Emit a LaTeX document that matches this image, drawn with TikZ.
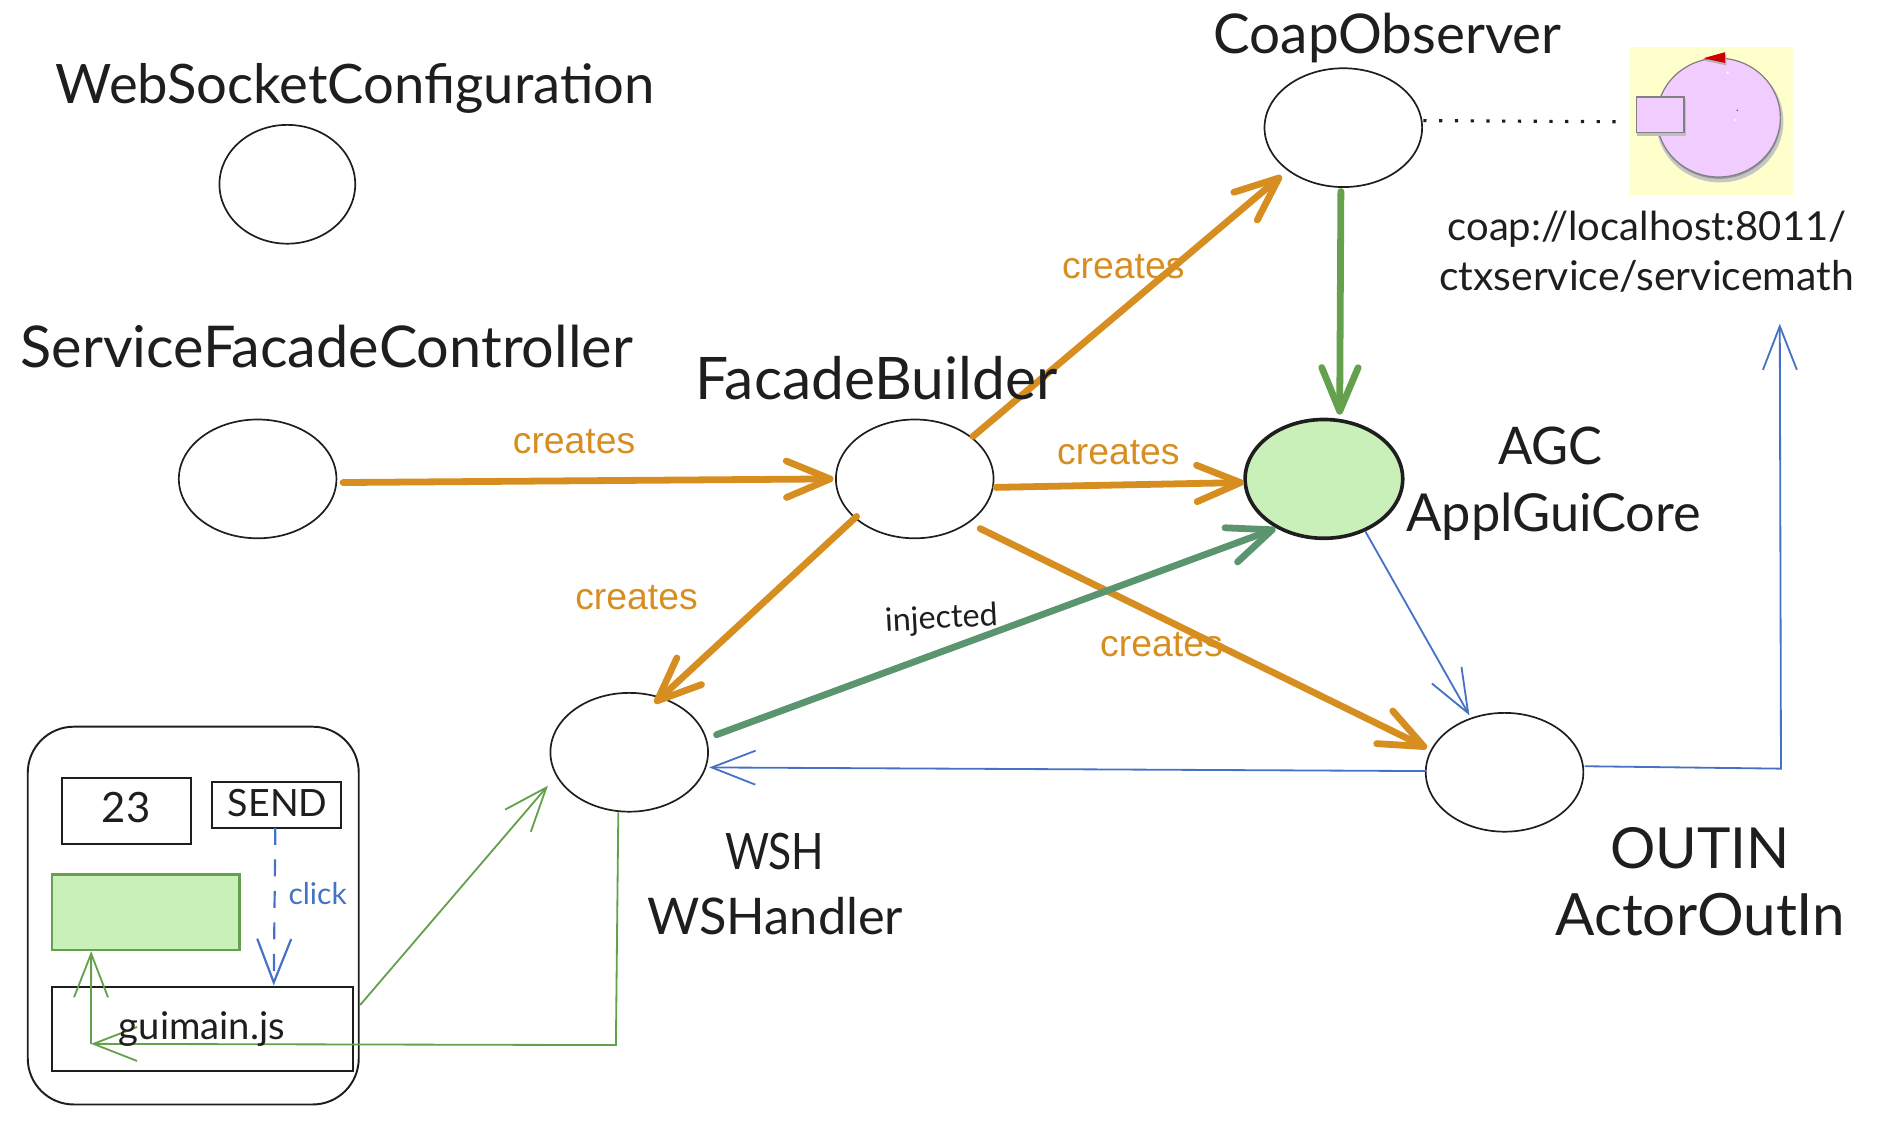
\documentclass[tikz,border=0pt]{standalone}
\usepackage{fontspec}
\usepackage{graphicx}
\setmainfont{Lato}
\newfontfamily\arialf{Liberation Sans}
\usetikzlibrary{arrows.meta,calc,shapes.geometric}
\definecolor{ink}{HTML}{1E1E1E}
\definecolor{orangeL}{HTML}{D78E20}
\definecolor{greenL}{HTML}{65A04D}
\definecolor{tealL}{HTML}{5A9570}
\definecolor{blueL}{HTML}{4472C4}
\definecolor{paleG}{HTML}{C9F0B8}
\definecolor{paleY}{HTML}{FFFFCC}
\definecolor{paleP}{HTML}{F0CCFF}
\newcommand{\hw}[2]{\resizebox{#1pt}{!}{#2}}
\tikzset{
  x=1pt,y=-1pt,
  oval/.style={ellipse,draw=ink,line width=1.4pt,minimum width=130pt,minimum height=98pt,inner sep=0pt},
  boxn/.style={rectangle,draw=ink,line width=1.7pt,inner sep=0pt},
  hand/.style={text=ink,inner sep=0pt,anchor=center},
  crt/.style={text=orangeL,inner sep=0pt,font=\arialf\fontsize{30.8}{34}\selectfont},
  fat/.style={line width=5.6pt,line cap=round,-{Straight Barb[length=36pt,width=30pt,round]}},
  org/.style={fat,draw=orangeL},
  thin/.style={line width=1.5pt,-{Straight Barb[length=36pt,width=28pt]}}
}
\begin{document}
\begin{tikzpicture}
\useasboundingbox (0,0) rectangle (1568,934);
% ovals
\node[oval,minimum width=112pt] (ws) at (237,152) {};
\node[oval] (svc) at (212.5,395) {};
\node[oval] (fac) at (754.5,395) {};
\node[oval] (coap) at (1108,105.3) {};
\node[oval,fill=paleG,line width=3pt,minimum width=130pt] (agc) at (1092,395) {};
\node[oval] (wsh) at (519,620.5) {};
\node[oval] (out) at (1241,637) {};
% icon
\node[rectangle,fill=paleY,minimum width=135pt,minimum height=122.5pt,inner sep=0pt] (icon) at (1411.5,99.8) {};
\fill[gray!45] (1418.5,100) ellipse [x radius=52.5,y radius=50.5];
\fill[gray!80] (1418,98.5) ellipse [x radius=51,y radius=49];
\draw[draw=gray,line width=1pt,fill=paleP] (1417.5,97) ellipse [x radius=51,y radius=49];
\fill[gray!50] (1350,82) rectangle (1391,112);
\draw[draw=gray,line width=1pt,fill=paleP] (1350,80) rectangle (1389,109);
\fill[gray!60] (1406,50) -- (1424,45) -- (1424,54) -- cycle;
\fill[red!80!black] (1405,48) -- (1423,43) -- (1423,52) -- cycle;
\fill[gray!80!black] (1433,91) circle (0.8);
\fill[white] (1431,99) circle (0.8);
\fill[white] (1425,60) circle (1);
\draw[ink,line width=2.6pt,dash pattern=on 2.6pt off 10.4pt] ($(coap.center)+(66,-5.8)$) -- ($(icon.center)+(-77.5,0.6)$);
% left panel
\node[rectangle,draw=ink,line width=1.6pt,rounded corners=38pt,minimum width=273pt,minimum height=311.6pt,inner sep=0pt] (panel) at (159.4,755.2) {};
\node[boxn,minimum width=106.8pt,minimum height=54.7pt] (val) at (104.2,668.7) {};
\node[boxn,minimum width=106.4pt,minimum height=38.3pt] (send) at (228.1,663.8) {};
\node[rectangle,draw=greenL,fill=paleG,line width=2pt,minimum width=155pt,minimum height=62.2pt,inner sep=0pt] (grect) at (120.2,752.5) {};
\node[boxn,minimum width=248.2pt,minimum height=69.2pt] (gui) at (166.8,848.4) {};
\coordinate (guiin) at (75,861);
\coordinate (elbow) at (508,862);
\coordinate (upcorner) at (1469,634);
\coordinate (upend) at (1468,267);
% connectors
\draw[org] ($(svc.center)+(70.5,3)$) -- ($(fac.center)+(-67,0)$);
\draw[org] ($(fac.center)+(48,-35)$) -- ($(coap.center)+(-51,39.7)$);
\draw[org] ($(fac.center)+(67,7)$) -- ($(agc.center)+(-66,3)$);
\draw[org] ($(fac.center)+(-48,31)$) -- ($(wsh.center)+(21,-40.5)$);
\draw[org] ($(fac.center)+(54,41)$) -- ($(out.center)+(-64,-20)$);
\draw[fat,draw=greenL] ($(coap.center)+(-2,52.7)$) -- ($(agc.center)+(13,-53)$);
\draw[fat,draw=tealL] ($(wsh.center)+(72,-14.5)$) -- ($(agc.center)+(-40,41)$);
\draw[thin,draw=blueL] ($(agc.center)+(34,43)$) -- ($(out.center)+(-29,-47)$);
\draw[thin,draw=blueL] ($(out.center)+(-65,-1)$) -- ($(wsh.center)+(66,12.5)$);
\draw[thin,draw=blueL] ($(out.center)+(66,-5)$) -- (upcorner) -- (upend);
\draw[thin,draw=greenL] ($(gui.center)+(130.2,-19.4)$) -- ($(wsh.center)+(-67,27.5)$);
\draw[thin,draw=greenL] ($(wsh.center)+(-9,49.5)$) -- (elbow) -- (guiin);
\draw[thin,draw=greenL] (guiin) -- ($(grect.center)+(-45,32)$);
\draw[line width=1.8pt,draw=blueL,dash pattern=on 14pt off 12pt,-{Straight Barb[length=36pt,width=28pt,line width=1.8pt]}] ($(send.center)+(-1,19)$) -- ($(gui.center)+(59,-35.5)$);
% labels
\node[hand] (t1) at (293,73) {\hw{494}{WebSocketConfiguration}};
\node[hand] (t2) at (269.5,286) {\hw{505}{ServiceFacadeController}};
\node[hand] (t3) at (723,312) {\hw{298}{FacadeBuilder}};
\node[hand] (t4) at (1144.5,31) {\hw{287}{CoapObserver}};
\node[hand] (t5) at (1279,368) {\resizebox{86pt}{31pt}{AGC}};
\node[hand] (t6) at (1281.5,426) {\hw{243}{ApplGuiCore}};
\node[hand] (t7) at (1358.5,189) {\hw{329}{coap://localhost:8011/}};
\node[hand] (t8) at (1358,228) {\hw{342}{ctxservice/servicemath}};
\node[hand] (t9) at (639,702) {\resizebox{82pt}{30pt}{WSH}};
\node[hand] (t10) at (639.5,756) {\hw{211}{WSHandler}};
\node[hand] (t11) at (1402,700) {\hw{148}{OUTIN}};
\node[hand] (t12) at (1402.5,754) {\hw{239}{ActorOutIn}};
\node[hand] (t13) at (104,666) {\hw{40}{23}};
\node[hand] (t14) at (229,662) {\hw{82}{SEND}};
\node[hand] (t15) at (166.5,849) {\hw{137}{guimain.js}};
\node[hand,text=blueL] (t16) at (262,737) {\hw{48}{click}};
\node[hand,rotate=3] (t17) at (776.5,511) {\hw{93}{injected}};
\node[crt] (c1) at (473.5,364) {creates};
\node[crt] (c2) at (926.5,220) {creates};
\node[crt] (c3) at (922.5,373) {creates};
\node[crt] (c4) at (525,493) {creates};
\node[crt] (c5) at (958,532) {creates};
\end{tikzpicture}
\end{document}
